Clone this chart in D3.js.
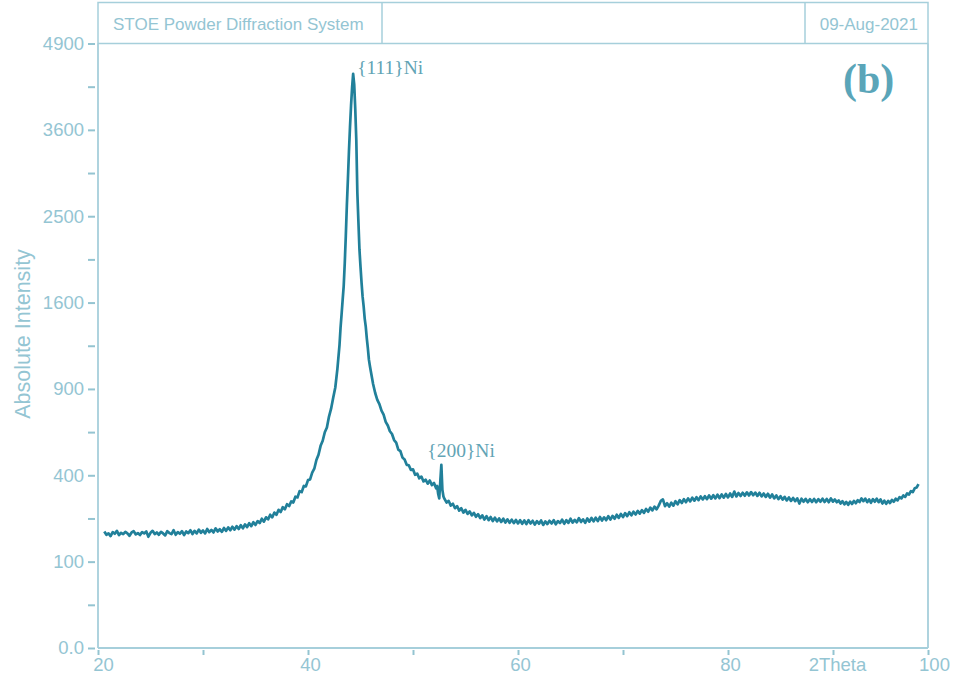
<!DOCTYPE html>
<html>
<head>
<meta charset="utf-8">
<script src="https://cdn.jsdelivr.net/npm/d3@7"></script>
<style>
  html, body { margin: 0; padding: 0; background: #ffffff; }
  svg { display: block; }
</style>
</head>
<body>
<svg id="chart" width="956" height="681"></svg>
<script>
// ---- Data: scan segments (start angle, step, counts) ----
const seg1Start = 20.6, seg1Step = 0.2;
const seg1Counts = [182,172,176,168,180,175,184,171,178,174,181,176,169,179,183,173,177,171,180,176,
  182,166,178,184,174,179,172,181,176,170,183,177,174,186,172,180,175,183,171,182,
  177,186,174,184,176,188,178,185,176,190,180,187,179,192,182,189,181,193,184,195,
  186,197,188,199,190,202,192,205,196,209,199,212,203,216,209,224,214,229,222,238,
  229,246,238,256,248,266,258,277,270,288,284,307,304,330,326,352,350,378,381,412,
  431,474,501,548,576,624,652,718,768,840,910,1045];
const seg2Start = 43.0, seg2Step = 0.1;
const seg2Counts = [1230,1375,1495,1625,1755,1985,2275,2625,2945,3305,3640,3945,4210,4420,4260,
  3900,3460,2780,2440,2130,1950,1790,1655,1565,1455,1385,1285,1205,1115,1065];
const seg3Start = 46.0, seg3Step = 0.2;
const seg3Counts = [1020,935,872,826,798,755,730,686,664,630,614,580,566,528,520,486,476,450,448,425,
  428,402,408,386,394,372,380,362,376,356,365];
const seg4Start = 52.2, seg4Step = 0.1;
const seg4Counts = [342,352,318,300,372,450,335,308];
const seg5Start = 53.0, seg5Step = 0.2;
const seg5Counts = [298,284,290,272,279,262,270,253,262,246,256,241,250,236,245,231,240,226,236,221,
  233,219,230,216,228,215,225,213,224,211,222,210,221,209,220,208,219,207,218,206,
  219,208,217,204,216,207,218,203,215,206,217,208,219,205,216,209,221,207,219,210,
  224,211,220,212,226,213,222,210,225,214,227,215,228,216,230,218,229,219,233,221,
  234,224,238,227,241,230,244,233,247,236,249,239,252,242,255,245,259,249,264,254,
  268,258,272,290,296,270,281,268,283,272,289,277,293,282,297,285,300,288,303,291,
  305,293,308,296,309,297,312,299,313,300,315,301,316,303,318,304,320,306,328,308,
  322,310,323,311,325,312,326,313,324,310,323,308,320,306,319,303,316,300,312,297,
  309,295,306,292,304,290,302,289,300,280,299,287,298,285,297,286,298,285,297,287,
  299,286,298,285,300,287];
const seg6Start = 90.2, seg6Step = 0.2;
const seg6Counts = [296,285,292,280,289,277,286,275,287,278,290,281,293,286,300,289,299,285,296,283,
  297,287,299,285,296,280,291,279,290,282,294,287,299,292,305,300,312,306,320,316,
  330,326,342,345,360];

// ---- Axis definitions ----
const yMajorTicks = [0, 100, 400, 900, 1600, 2500, 3600, 4900];
const yMajorLabels = ["0.0", "100", "400", "900", "1600", "2500", "3600", "4900"];
const yMinorTicks = [25, 225, 625, 1225, 2025, 3025, 4225];
const xTicks = [20, 30, 40, 50, 60, 70, 80, 90, 100];
const xTickLabels = ["20", "", "40", "", "60", "", "80", "2Theta", "100"];
const xLabelShift = [5, 0, 2, 0, 2, 0, 2, 4, 6];

const headerLeft = "STOE Powder Diffraction System";
const headerRight = "09-Aug-2021";
const panelLabel = "(b)";
const yTitle = "Absolute Intensity";
const peakLabels = [
  { text: "{111}Ni", twoTheta: 44.3, value: 4421 },
  { text: "{200}Ni", twoTheta: 52.7, value: 450 }
];

// ---- Build series ----
function expand(start, step, counts) {
  return counts.map((c, i) => ({ t: +(start + i * step).toFixed(2), v: c }));
}
const series = [].concat(
  expand(seg1Start, seg1Step, seg1Counts),
  expand(seg2Start, seg2Step, seg2Counts),
  expand(seg3Start, seg3Step, seg3Counts),
  expand(seg4Start, seg4Step, seg4Counts),
  expand(seg5Start, seg5Step, seg5Counts),
  expand(seg6Start, seg6Step, seg6Counts)
);

// ---- Layout ----
const plotL = 98, plotR = 928, plotT = 43.5, plotB = 648, headT = 2.5;
const frameColor = "#a6cfdb";
const textColor = "#94c5d3";
const lineColor = "#21809a";

const svg = d3.select("#chart");
const x = d3.scaleLinear().domain([20, 90, 100]).range([plotL, 833, plotR]);
const y = d3.scaleSqrt().domain([0, 4900]).range([plotB, plotT]);

// header box
svg.append("rect").attr("x", plotL).attr("y", headT)
  .attr("width", plotR - plotL).attr("height", plotT - headT)
  .attr("fill", "none").attr("stroke", frameColor).attr("stroke-width", 1.5);
svg.append("line").attr("x1", 382).attr("x2", 382).attr("y1", headT).attr("y2", plotT)
  .attr("stroke", frameColor).attr("stroke-width", 1.5);
svg.append("line").attr("x1", 805).attr("x2", 805).attr("y1", headT).attr("y2", plotT)
  .attr("stroke", frameColor).attr("stroke-width", 1.5);
svg.append("text").attr("x", 113).attr("y", 29.5).text(headerLeft)
  .attr("font-family", "Liberation Sans, Arial, sans-serif").attr("font-size", 17)
  .attr("fill", textColor);
svg.append("text").attr("x", 918).attr("y", 29.5).attr("text-anchor", "end").text(headerRight)
  .attr("font-family", "Liberation Sans, Arial, sans-serif").attr("font-size", 17)
  .attr("fill", textColor);

// plot frame lines
svg.append("line").attr("x1", plotL).attr("x2", plotL).attr("y1", plotT).attr("y2", plotB)
  .attr("stroke", frameColor).attr("stroke-width", 1.8);
svg.append("line").attr("x1", plotR).attr("x2", plotR).attr("y1", plotT).attr("y2", plotB)
  .attr("stroke", frameColor).attr("stroke-width", 1.8);
svg.append("line").attr("x1", plotL).attr("x2", plotR).attr("y1", plotB).attr("y2", plotB)
  .attr("stroke", frameColor).attr("stroke-width", 1.8);

// Y axis (ticks detached from frame)
const yAxisG = svg.append("g").attr("transform", `translate(${plotL - 3},0)`)
  .call(d3.axisLeft(y).tickValues(yMajorTicks).tickSize(7).tickPadding(4)
    .tickFormat((d, i) => yMajorLabels[i]));
yAxisG.call(g => g.select(".domain").remove());
yAxisG.selectAll("line").attr("stroke", "#94c4d1").attr("stroke-width", 2);
yAxisG.selectAll("text").attr("fill", textColor)
  .attr("font-family", "Liberation Sans, Arial, sans-serif").attr("font-size", 18.5);
const yMinorG = svg.append("g").attr("transform", `translate(${plotL - 3},0)`)
  .call(d3.axisLeft(y).tickValues(yMinorTicks).tickSize(7).tickFormat(""));
yMinorG.call(g => g.select(".domain").remove());
yMinorG.selectAll("line").attr("stroke", "#94c4d1").attr("stroke-width", 2);

// X axis
const xAxisG = svg.append("g").attr("transform", `translate(0,${plotB + 2})`)
  .call(d3.axisBottom(x).tickValues(xTicks).tickSize(5).tickPadding(3)
    .tickFormat((d, i) => xTickLabels[i]));
xAxisG.call(g => g.select(".domain").remove());
xAxisG.selectAll("line").attr("stroke", "#94c4d1").attr("stroke-width", 2);
xAxisG.selectAll("text").attr("fill", textColor)
  .attr("font-family", "Liberation Sans, Arial, sans-serif").attr("font-size", 18.5)
  .attr("dx", (d, i) => xLabelShift[i]);

// Y title
svg.append("text")
  .attr("transform", "translate(30,334) rotate(-90)")
  .attr("text-anchor", "middle").text(yTitle)
  .attr("font-family", "Liberation Sans, Arial, sans-serif").attr("font-size", 21.5)
  .attr("fill", textColor);

// Data line
const line = d3.line().x(d => x(d.t)).y(d => y(d.v));
svg.append("path").datum(series).attr("d", line)
  .attr("fill", "none").attr("stroke", lineColor).attr("stroke-width", 2.7)
  .attr("stroke-linejoin", "round");

// Peak labels
svg.selectAll(".peak").data(peakLabels).enter().append("text")
  .attr("class", "peak")
  .attr("x", d => x(d.twoTheta) + 4)
  .attr("y", d => y(d.value))
  .attr("dy", (d, i) => i === 0 ? 0 : -8)
  .attr("dx", (d, i) => i === 0 ? 0 : -18)
  .text(d => d.text)
  .attr("font-family", "Liberation Serif, Times New Roman, serif").attr("font-size", 19.5)
  .attr("fill", "#62a4b5");

// Panel label
svg.append("text").attr("x", 843).attr("y", 93).text(panelLabel)
  .attr("font-family", "Liberation Serif, Times New Roman, serif").attr("font-weight", "bold")
  .attr("font-size", 42).attr("fill", "#5aa5b9");
</script>
</body>
</html>
